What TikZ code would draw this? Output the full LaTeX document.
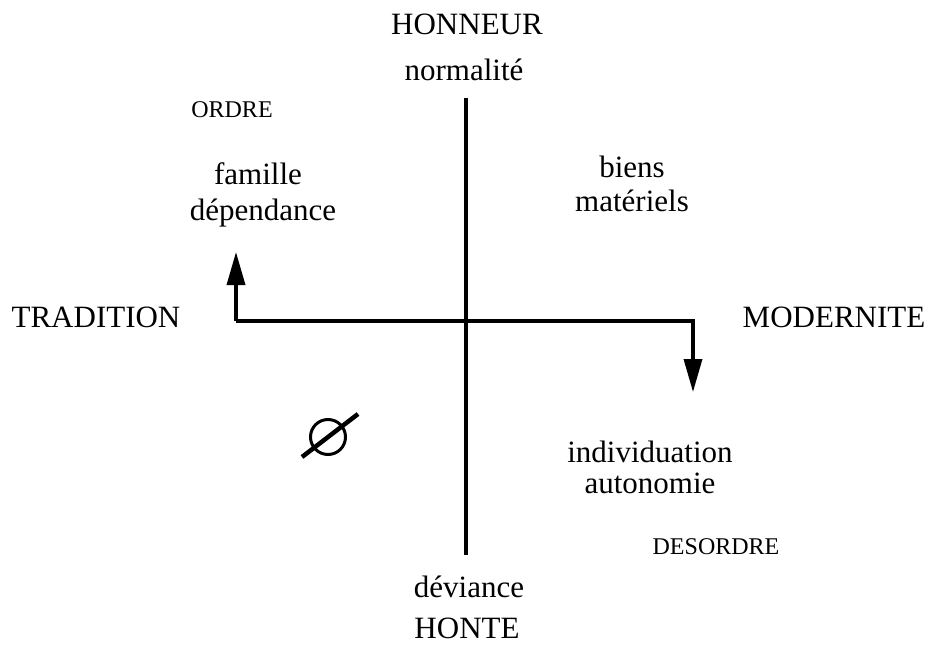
\documentclass[tikz,border=0pt]{standalone}
\usepackage{fontspec}
\setmainfont{Liberation Serif}
\usetikzlibrary{arrows.meta}
\begin{document}
\begin{tikzpicture}[x=1pt,y=-1pt,
  big/.style={font=\fontsize{31pt}{36pt}\selectfont, anchor=base, inner sep=0pt},
  small/.style={font=\fontsize{24pt}{28pt}\selectfont, anchor=base, inner sep=0pt},
  axis/.style={line width=3.5pt},
  tip/.style={-{Triangle[length=33pt,width=18pt]}}]
\useasboundingbox (0,0) rectangle (932,647);
% labels
\node[big] (honneur) at (467,35) {HONNEUR};
\node[big] (normalite) at (464,81) {normalité};
\node[small] (ordre) at (232,118) {ORDRE};
\node[big] (famille) at (258,185) {famille};
\node[big] (dependance) at (263,221) {dépendance};
\node[big] (biens) at (632,178) {biens};
\node[big] (materiels) at (632,212) {matériels};
\node[big] (tradition) at (96,327) {TRADITION};
\node[big] (modernite) at (834,327) {MODERNITE};
\node[big] (individuation) at (650,462) {individuation};
\node[big] (autonomie) at (650,493) {autonomie};
\node[small] (desordre) at (716,554) {DESORDRE};
\node[big] (deviance) at (469,597) {déviance};
\node[big] (honte) at (467,638) {HONTE};
% axes
\coordinate (vtop) at (466,98);
\coordinate (vbot) at (466,555);
\draw[axis] (vtop) -- (vbot);
\coordinate (lt) at (236,252);
\coordinate (lc) at (236,321);
\coordinate (rc) at (693,321);
\coordinate (rt) at (693,392);
\draw[axis, line join=miter, tip] (lc) -- (lt);
\draw[axis, line join=miter, tip] (lc) -- (rc) -- (rt);
% empty set symbol
\coordinate (es) at (328,437);
\draw[line width=3pt] (es) circle [radius=17.5];
\draw[line width=4.5pt] (302,457) -- (358,414);
\end{tikzpicture}
\end{document}
